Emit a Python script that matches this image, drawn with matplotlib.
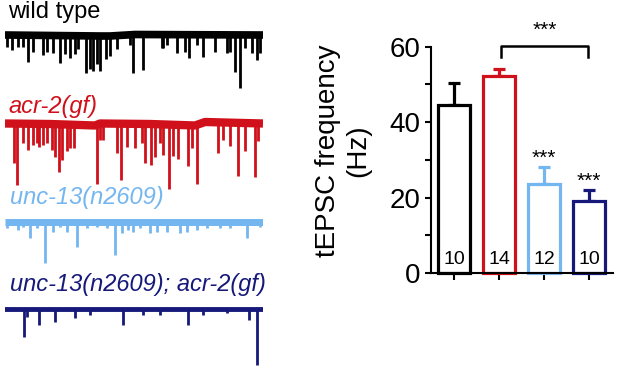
import numpy as np
import matplotlib
import matplotlib.pyplot as plt

matplotlib.use('agg')
plt.rcParams['font.family'] = ['Liberation Sans', 'DejaVu Sans']

# genotypes, same order for the traces and the bars
genotypes = ['wild type', 'acr-2(gf)', 'unc-13(n2609)', 'unc-13(n2609); acr-2(gf)']
colors = ['#000000', '#d0101a', '#74b6f0', '#16197a']

# tEPSC frequency (Hz): mean, SEM and number of animals
freq_mean = [44.6, 52.1, 23.5, 19.1]
freq_sem = [5.7, 2.0, 4.5, 2.8]
n_animals = [10, 14, 12, 10]
stars = ['', '', '***', '***']

# example recordings: slow baseline drift (knots) and tEPSC events, time in s, current in pA
wt_base_t = [0.0, 0.95, 1.05, 1.3, 2.58]
wt_base_pA = [0, -4, -4, 2, 0]
wt_spike_t = [0.02, 0.07, 0.13, 0.18, 0.23, 0.28, 0.38, 0.42, 0.48, 0.55, 0.60, 0.65, 0.70, 0.73,
              0.81, 0.85, 0.88, 0.92, 0.95, 1.01, 1.05, 1.12, 1.25, 1.28, 1.38, 1.57, 1.58, 1.62,
              1.72, 1.80, 1.84, 1.92, 1.98, 2.10, 2.22, 2.25, 2.30, 2.35, 2.40, 2.47, 2.52, 2.55]
wt_spike_pA = [48, 60, 48, 48, 108, 68, 80, 68, 68, 108, 72, 88, 72, 52,
               148, 132, 140, 112, 140, 92, 80, 52, 40, 152, 140, 52, 52, 40,
               72, 68, 92, 40, 88, 68, 72, 68, 148, 212, 52, 72, 100, 72]

gf_base_t = [0.0, 0.45, 0.9, 0.95, 1.45, 1.9, 2.0, 2.58]
gf_base_pA = [2, 0, -6, 2, 0, -6, 8, 2]
gf_spike_t = [0.09, 0.12, 0.18, 0.23, 0.28, 0.32, 0.34, 0.38, 0.42, 0.47, 0.50, 0.54, 0.57, 0.62,
              0.65, 0.69, 0.92, 0.95, 0.98, 1.12, 1.16, 1.22, 1.30, 1.37, 1.40, 1.46, 1.50, 1.55,
              1.58, 1.64, 1.68, 1.73, 1.83, 1.87, 1.92, 2.13, 2.18, 2.25, 2.33, 2.40, 2.50, 2.53]
gf_spike_pA = [156, 244, 76, 104, 84, 76, 92, 84, 76, 104, 132, 192, 144, 104,
               92, 92, 236, 64, 64, 116, 224, 92, 96, 76, 156, 164, 132, 76,
               124, 256, 124, 136, 164, 92, 236, 124, 72, 92, 212, 112, 216, 72]

unc_base_t = [0.0, 2.6]
unc_base_pA = [0, 0]
unc_spike_t = [0.02, 0.13, 0.18, 0.25, 0.32, 0.40, 0.48, 0.55, 0.62, 0.72, 0.82, 0.92, 1.02, 1.10,
               1.17, 1.23, 1.28, 1.35, 1.45, 1.52, 1.62, 1.75, 1.82, 1.92, 2.02, 2.15, 2.25, 2.42, 2.55]
unc_spike_pA = [24, 32, 20, 64, 24, 164, 40, 20, 40, 100, 24, 20, 24, 132,
                44, 32, 40, 24, 44, 40, 40, 44, 40, 32, 24, 24, 24, 64, 20]

dbl_base_t = [-0.02, 2.6]
dbl_base_pA = [0, 0]
dbl_spike_t = [0.19, 0.22, 0.34, 0.50, 0.70, 0.85, 1.18, 1.38, 1.55, 1.83, 1.98, 2.22, 2.44, 2.52]
dbl_spike_pA = [112, 32, 64, 52, 36, 24, 64, 24, 24, 64, 24, 16, 44, 224]

traces = [(wt_base_t, wt_base_pA, wt_spike_t, wt_spike_pA),
          (gf_base_t, gf_base_pA, gf_spike_t, gf_spike_pA),
          (unc_base_t, unc_base_pA, unc_spike_t, unc_spike_pA),
          (dbl_base_t, dbl_base_pA, dbl_spike_t, dbl_spike_pA)]

W, H = 617, 368
fig = plt.figure(figsize=(W / 100, H / 100), dpi=100)

########################################################################################
### left: example traces
########################################################################################
ax_tr = fig.add_axes([5 / W, 0, 258 / W, 1])
ax_tr.set_xlim(0, 2.58)
ax_tr.set_ylim(-4 * H, 0)
ax_tr.axis('off')

offsets = [-140, -496, -888, -1236]   # vertical place of each trace
noise_lw = [5.5, 6.0, 5.0, 3.5]        # thickness of the noise band
label_pos = [(8, 12), (8, 106), (10, 198), (10, 284)]

for i, (bt, bv, st, sa) in enumerate(traces):
    off = offsets[i]
    ax_tr.plot(bt, np.array(bv) + off, color=colors[i], lw=noise_lw[i], solid_capstyle='butt')
    base_at_spike = np.interp(st, bt, bv) + off
    ax_tr.vlines(st, base_at_spike - np.array(sa), base_at_spike, color=colors[i], lw=2.0)
    fig.text(label_pos[i][0] / W, 1 - label_pos[i][1] / H, genotypes[i], color=colors[i],
             fontsize=17, style='normal' if i == 0 else 'italic', ha='left', va='center')

########################################################################################
### right: tEPSC frequency bars
########################################################################################
ax = fig.add_axes([431 / W, 95 / H, 182 / W, 226.3 / H])
x = np.arange(len(freq_mean))
ax.bar(x, freq_mean, width=0.71, facecolor='white', edgecolor=colors, linewidth=2.3,
       clip_on=False, zorder=2)
for i in range(len(x)):
    ax.errorbar(x[i], freq_mean[i], yerr=[[0], [freq_sem[i]]], fmt='none', ecolor=colors[i],
                elinewidth=2.3, capsize=4.5, capthick=2.3, zorder=1)
    ax.text(x[i], 3.5, str(n_animals[i]), ha='center', va='center', fontsize=14)
    if stars[i]:
        ax.text(x[i], freq_mean[i] + freq_sem[i] + 2.5, stars[i], ha='center', va='center',
                fontsize=15)

# comparison bracket between acr-2(gf) and the double mutant
ax.plot([1.05, 1.05, 2.97, 2.97], [57.2, 60.1, 60.1, 57.2], color='black', lw=1.8,
        clip_on=False)
ax.text(2.02, 64.3, '***', ha='center', va='center', fontsize=15)

ax.set_xlim(-0.51, 3.53)
ax.set_ylim(0, 60)
ax.set_yticks([0, 20, 40, 60])
ax.set_yticks([10, 30, 50], minor=True)
ax.set_xticks(x)
ax.set_xticklabels([])
ax.spines['top'].set_visible(False)
ax.spines['right'].set_visible(False)
ax.spines['left'].set_linewidth(1.5)
ax.spines['bottom'].set_linewidth(1.5)
ax.tick_params(axis='y', which='both', length=4.5, width=1.5, labelsize=20, pad=3)
ax.tick_params(axis='x', length=5, width=1.5)

fig.text(343 / W, 1 - 151 / H, 'tEPSC frequency\n(Hz)', rotation=90, ha='center', va='center',
         multialignment='center', fontsize=20)

fig.savefig('out.png', dpi=100)
plt.close('all')
